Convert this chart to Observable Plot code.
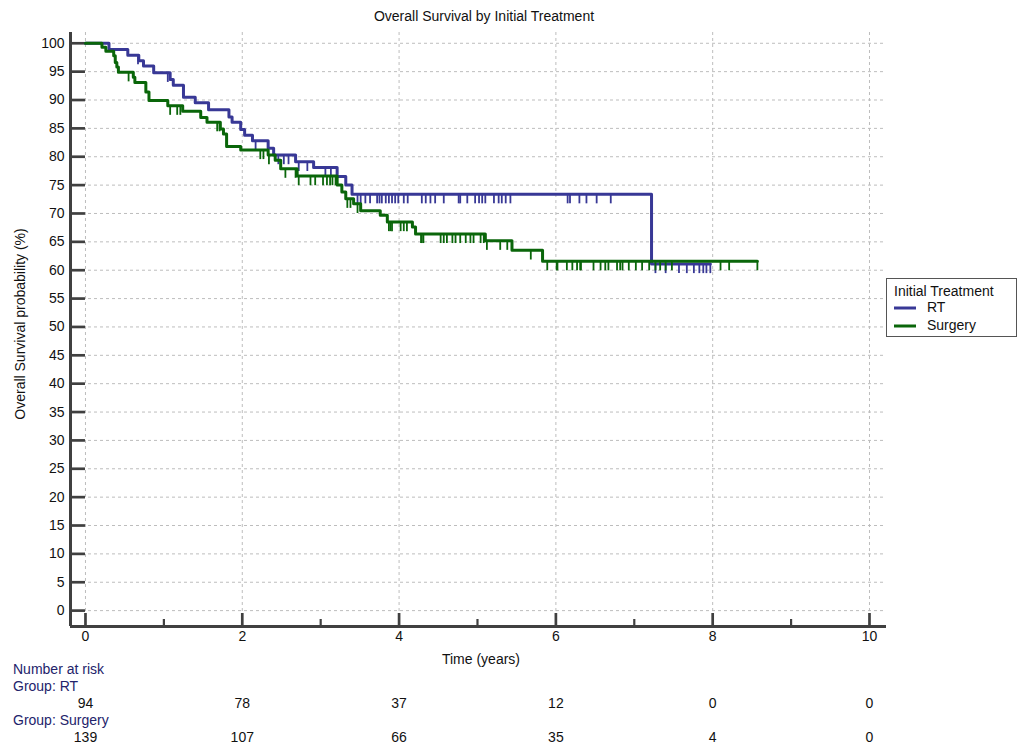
<!DOCTYPE html>
<html><head><meta charset="utf-8">
<script src="https://cdn.jsdelivr.net/npm/d3@7"></script>
<script src="https://cdn.jsdelivr.net/npm/@observablehq/plot@0.6"></script>
<style>body{margin:0;background:#fff} svg{display:block}</style>
</head><body><div id="chart"></div>
<script>
// ---- data ----
const groups = ["RT", "Surgery"];
const rtTimes = [0, 0.30, 0.54, 0.68, 0.74, 0.87, 1.08, 1.12, 1.25, 1.40, 1.57, 1.83, 1.87, 1.98, 2.03, 2.13, 2.33, 2.40, 2.68, 2.91, 3.21, 3.32, 3.40, 7.22, 7.97];
const rtSurv  = [100, 98.9, 97.9, 96.9, 96.0, 94.8, 93.6, 92.6, 90.5, 89.5, 88.3, 87.0, 86.1, 84.8, 83.8, 82.8, 81.5, 80.3, 79.1, 78.1, 76.5, 75.0, 73.4, 61.1, 61.1];
const rtCensor = [0.67, 1.05, 2.17, 2.46, 2.53, 2.59, 2.72, 2.83, 3.06, 3.13, 3.47, 3.51, 3.57, 3.63, 3.72, 3.75, 3.78, 3.83, 3.87, 3.91, 3.95, 3.99, 4.06, 4.11, 4.29, 4.34, 4.40, 4.46, 4.57, 4.76, 4.78, 4.87, 4.97, 5.02, 5.06, 5.10, 5.21, 5.27, 5.31, 5.36, 5.42, 6.15, 6.18, 6.30, 6.39, 6.52, 6.70, 7.27, 7.40, 7.57, 7.67, 7.76, 7.83, 7.88, 7.92, 7.97];

const surgTimes = [0, 0.21, 0.26, 0.36, 0.38, 0.40, 0.42, 0.61, 0.63, 0.77, 0.81, 1.05, 1.24, 1.47, 1.55, 1.72, 1.76, 1.80, 1.98, 2.33, 2.42, 2.49, 2.70, 3.21, 3.27, 3.32, 3.42, 3.51, 3.76, 3.85, 4.17, 4.21, 5.10, 5.44, 5.83, 8.57];
const surgSurv  = [100, 99.3, 98.6, 97.8, 96.6, 95.8, 94.9, 94.0, 93.1, 91.4, 89.9, 89.0, 88.0, 86.9, 86.1, 84.9, 84.0, 81.8, 81.2, 80.3, 79.4, 77.9, 76.6, 75.0, 73.8, 72.6, 71.7, 70.5, 69.7, 68.5, 67.6, 66.4, 65.2, 63.5, 61.6, 61.6];
const surgCensor = [0.55, 1.08, 1.17, 1.21, 1.68, 1.71, 2.23, 2.27, 2.34, 2.55, 2.68, 2.72, 2.87, 2.93, 3.03, 3.08, 3.12, 3.15, 3.19, 3.34, 3.38, 3.47, 3.87, 3.89, 3.91, 4.02, 4.06, 4.10, 4.28, 4.29, 4.31, 4.53, 4.57, 4.61, 4.68, 4.72, 4.78, 4.85, 4.91, 4.95, 5.04, 5.08, 5.12, 5.29, 5.38, 5.68, 5.89, 6.01, 6.02, 6.14, 6.21, 6.27, 6.31, 6.32, 6.48, 6.57, 6.63, 6.67, 6.78, 6.82, 6.85, 6.93, 7.02, 7.10, 7.19, 7.27, 7.33, 7.40, 7.48, 8.10, 8.21, 8.57];

const riskTimes = [0, 2, 4, 6, 8, 10];
const riskRT = [94, 78, 37, 12, 0, 0];
const riskSurgery = [139, 107, 66, 35, 4, 0];

const xTicks = [0, 2, 4, 6, 8, 10];
const xMinor = [1, 3, 5, 7, 9];
const yTicks = d3.range(0, 101, 5);

// ---- build tables ----
const blue = "#383896", green = "#0a660a";
const font = "'Liberation Sans', Arial, sans-serif";
function survAt(times, survs, t) {
  let s = survs[0];
  for (let i = 0; i < times.length; i++) if (times[i] <= t) s = survs[i];
  return s;
}
const rtLine = rtTimes.map((t, i) => ({t, s: rtSurv[i]}));
const surgLine = surgTimes.map((t, i) => ({t, s: surgSurv[i]}));
const rtCens = rtCensor.map(t => ({t, s: survAt(rtTimes, rtSurv, t)}));
const surgCens = surgCensor.map(t => ({t, s: survAt(surgTimes, surgSurv, t)}));
const riskA = riskTimes.map((t, i) => ({t, n: riskRT[i]}));
const riskB = riskTimes.map((t, i) => ({t, n: riskSurgery[i]}));

const xMin = -0.191, xMax = 10.217, yMin = -2.8, yMax = 101.9;
const axisColor = "#404040";

const plot = Plot.plot({
  width: 1020, height: 744,
  marginLeft: 70, marginRight: 134, marginTop: 32, marginBottom: 118,
  style: {fontFamily: font, fontSize: "14px", background: "white", color: "#111", overflow: "visible"},
  x: {domain: [xMin, xMax]},
  y: {domain: [yMin, yMax]},
  marks: [
    Plot.gridY({ticks: yTicks, stroke: "#bdbdbd", strokeOpacity: 1, strokeDasharray: "3,3"}),
    Plot.gridX({ticks: xTicks, stroke: "#bdbdbd", strokeOpacity: 1, strokeDasharray: "3,3"}),
    // inward-pointing y ticks (from the axis line to x = 0)
    Plot.ruleY(yTicks, {y: d => d, x1: xMin, x2: 0, stroke: axisColor, strokeWidth: 2.7}),
    Plot.axisY({ticks: yTicks, tickSize: 0, tickPadding: 6, label: null, fill: "#111", fontSize: 14}),
    Plot.axisX({ticks: xTicks, tickSize: 13, dy: -13, fill: "none", stroke: axisColor, strokeWidth: 2.7}),
    Plot.axisX({ticks: xMinor, tickSize: 7, dy: -7, fill: "none", stroke: axisColor, strokeWidth: 2.2}),
    Plot.axisX({ticks: xTicks, tickSize: 0, tickPadding: 5, label: null, fill: "#111", fontSize: 14}),
    Plot.ruleX([xMin], {stroke: axisColor, strokeWidth: 3}),
    Plot.ruleY([yMin], {stroke: axisColor, strokeWidth: 3}),
    Plot.line(rtLine, {x: "t", y: "s", curve: "step-after", stroke: blue, strokeWidth: 3}),
    Plot.ruleX(rtCens, {x: "t", y1: "s", y2: d => d.s - 1.7, stroke: blue, strokeWidth: 1.8}),
    Plot.line(surgLine, {x: "t", y: "s", curve: "step-after", stroke: green, strokeWidth: 3}),
    Plot.ruleX(surgCens, {x: "t", y1: "s", y2: d => d.s - 1.7, stroke: green, strokeWidth: 1.8}),
    Plot.text(riskA, {x: "t", text: d => String(d.n), frameAnchor: "bottom", dy: 81, fill: "#111", fontSize: 14}),
    Plot.text(riskB, {x: "t", text: d => String(d.n), frameAnchor: "bottom", dy: 115, fill: "#111", fontSize: 14})
  ]
});
document.getElementById("chart").appendChild(plot);

// ---- annotations ----
const svg = d3.select(plot);
const g = svg.append("g").attr("font-family", font).attr("font-size", 14).attr("fill", "#111").attr("text-anchor", "start");
g.append("text").attr("x", 484).attr("y", 16).attr("dy", "0.35em").attr("text-anchor", "middle").text("Overall Survival by Initial Treatment");
g.append("text").attr("x", 481).attr("y", 659).attr("dy", "0.35em").attr("text-anchor", "middle").text("Time (years)");
g.append("text").attr("transform", "translate(20,324) rotate(-90)").attr("dy", "0.35em").attr("text-anchor", "middle").text("Overall Survival probability (%)");
const navy = "#23236b";
g.append("text").attr("x", 13).attr("y", 669).attr("dy", "0.35em").attr("fill", navy).text("Number at risk");
g.append("text").attr("x", 13).attr("y", 686).attr("dy", "0.35em").attr("fill", navy).text("Group: " + groups[0]);
g.append("text").attr("x", 13).attr("y", 720).attr("dy", "0.35em").attr("fill", navy).text("Group: " + groups[1]);

// legend
const lg = g.append("g");
lg.append("rect").attr("x", 886.5).attr("y", 278.5).attr("width", 130).attr("height", 58).attr("fill", "white").attr("stroke", "#555");
lg.append("text").attr("x", 894).attr("y", 291).attr("dy", "0.35em").text("Initial Treatment");
[[blue, groups[0], 308], [green, groups[1], 326]].forEach(([c, name, y]) => {
  lg.append("line").attr("x1", 894).attr("x2", 916).attr("y1", y).attr("y2", y).attr("stroke", c).attr("stroke-width", 3);
  lg.append("text").attr("x", 927).attr("y", y - 1).attr("dy", "0.35em").text(name);
});
</script></body></html>
